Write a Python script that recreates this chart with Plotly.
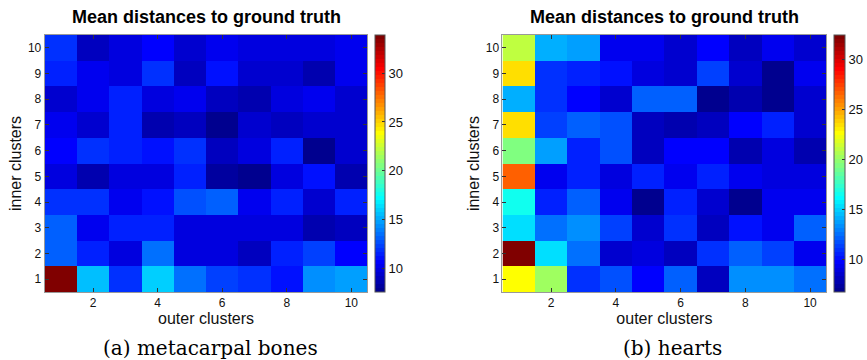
import plotly.graph_objects as go

outer_clusters = list(range(1, 11))
inner_clusters = list(range(1, 11))
x_tick_vals = [2, 4, 6, 8, 10]
cb_tick_vals = [10, 15, 20, 25, 30]

# rows: inner clusters 1..10, columns: outer clusters 1..10
metacarpal_means = [
    [33.9, 15.8, 12.1, 16.2, 13.5, 12.5, 11.9, 10.9, 14.3, 14.8],
    [13.2, 11.4, 9.7, 13.7, 9.9, 9.9, 8.9, 11.4, 12.5, 10.8],
    [13.1, 10.3, 11.4, 11.7, 9.8, 9.8, 9.8, 9.8, 8.7, 9.1],
    [11.9, 11.9, 10.4, 10.9, 12.7, 13.1, 10.4, 11.4, 9.5, 11.7],
    [9.7, 8.8, 9.9, 9.8, 11.7, 8.1, 7.6, 9.8, 11.2, 8.8],
    [10.8, 11.9, 11.5, 11.1, 11.8, 9.2, 9.8, 11.4, 7.8, 9.5],
    [10.3, 9.5, 11.4, 8.8, 9.0, 7.7, 9.5, 9.0, 9.3, 9.3],
    [9.5, 10.1, 11.4, 9.7, 10.4, 9.2, 8.5, 9.7, 10.1, 9.5],
    [11.4, 10.4, 9.8, 12.1, 9.0, 10.9, 9.5, 9.5, 8.8, 10.4],
    [12.0, 9.0, 9.7, 10.8, 9.6, 10.2, 9.9, 9.7, 9.7, 10.4],
]

hearts_means = [
    [22.5, 20.1, 10.9, 11.7, 9.9, 12.2, 8.3, 13.3, 13.2, 12.4],
    [32.5, 15.5, 12.7, 8.6, 9.0, 8.0, 10.9, 12.2, 11.2, 9.4],
    [15.3, 12.4, 13.2, 11.2, 8.6, 10.8, 8.0, 10.2, 9.4, 12.1],
    [16.4, 10.4, 12.2, 9.4, 7.0, 10.4, 8.5, 6.9, 9.3, 9.2],
    [26.5, 9.3, 10.4, 9.0, 10.4, 9.4, 10.5, 9.2, 9.0, 8.8],
    [19.2, 13.7, 10.7, 11.7, 8.2, 9.9, 9.9, 7.9, 8.8, 7.9],
    [23.3, 11.4, 12.2, 11.7, 8.0, 7.6, 8.0, 9.9, 10.7, 8.7],
    [14.0, 11.0, 9.9, 8.7, 12.2, 12.2, 6.9, 7.6, 7.0, 8.6],
    [23.3, 10.9, 10.7, 10.2, 9.0, 8.6, 11.2, 8.5, 6.7, 9.3],
    [20.9, 14.0, 13.7, 9.3, 9.3, 8.7, 9.9, 8.1, 9.3, 8.4],
]

title_text = "Mean distances to ground truth"
x_label = "outer clusters"
y_label = "inner clusters"
captions = ["(a) metacarpal bones", "(b) hearts"]


def jet64():
    n = 64
    cols = []
    for k in range(1, n + 1):
        if k <= 8:
            r, g, b = 0, 0, 0.5 + k / 16
        elif k <= 24:
            r, g, b = 0, (k - 8) / 16, 1
        elif k <= 40:
            r, g, b = (k - 24) / 16, 1, 1 - (k - 24) / 16
        elif k <= 56:
            r, g, b = 1, 1 - (k - 40) / 16, 0
        else:
            r, g, b = 1 - (k - 56) / 16, 0, 0
        cols.append("rgb(%d,%d,%d)" % (round(r * 255), round(g * 255), round(b * 255)))
    scale = []
    for i, c in enumerate(cols):
        scale.append([i / n, c])
        scale.append([(i + 1) / n, c])
    return scale


JET = jet64()
FONT = "Liberation Sans, Arial, Helvetica, sans-serif"

W, H = 867, 360
def px_x(v):
    return v / W
def px_y(v):
    return 1 - v / H

dom_y = [px_y(292), px_y(35)]
dom_x1 = [px_x(45), px_x(370)]
dom_x2 = [px_x(506), px_x(832)]

fig = go.Figure()

for i, (z, dx, cbx, cbth) in enumerate([
    (metacarpal_means, dom_x1, px_x(378), 10),
    (hearts_means, dom_x2, px_x(840), 11),
]):
    xa = "x" if i == 0 else "x2"
    ya = "y" if i == 0 else "y2"
    fig.add_trace(go.Heatmap(
        z=z, x=outer_clusters, y=inner_clusters,
        colorscale=JET,
        xaxis=xa, yaxis=ya,
        colorbar=dict(
            x=cbx, xanchor="left", xref="paper",
            y=(dom_y[0] + dom_y[1]) / 2, yanchor="middle",
            len=257, lenmode="pixels",
            thickness=cbth, thicknessmode="pixels",
            outlinecolor="#555", outlinewidth=1,
            tickvals=cb_tick_vals,
            ticks="inside", ticklen=3, tickcolor="#333",
            tickfont=dict(family=FONT, size=13, color="#111"),
            xpad=0, ypad=0,
        ),
        hoverinfo="skip",
    ))

axis_common = dict(
    showline=True, linecolor="#999", linewidth=1, mirror="ticks",
    ticks="inside", ticklen=4, tickcolor="#333",
    tickfont=dict(family=FONT, size=12, color="#111"),
    showgrid=False, zeroline=False,
)
label_font = dict(family=FONT, size=16, color="#111")

fig.update_layout(
    width=W, height=H,
    margin=dict(l=0, r=0, t=0, b=0),
    paper_bgcolor="white", plot_bgcolor="white",
    showlegend=False,
    xaxis=dict(domain=dom_x1, anchor="y", range=[0.5, 10.5], tickvals=x_tick_vals,
               title=dict(text=x_label, font=label_font, standoff=2),
               **axis_common),
    yaxis=dict(domain=dom_y, anchor="x", range=[0.5, 10.5], tickvals=inner_clusters,
               title=dict(text=y_label, font=label_font, standoff=2),
               **axis_common),
    xaxis2=dict(domain=dom_x2, anchor="y2", range=[0.5, 10.5], tickvals=x_tick_vals,
                title=dict(text=x_label, font=label_font, standoff=2),
                **axis_common),
    yaxis2=dict(domain=dom_y, anchor="x2", range=[0.5, 10.5], tickvals=inner_clusters,
                title=dict(text=y_label, font=label_font, standoff=2),
                **axis_common),
)

annotations = []
for dx in (dom_x1, dom_x2):
    annotations.append(dict(
        text="<b>" + title_text + "</b>", x=(dx[0] + dx[1]) / 2, y=px_y(17),
        xref="paper", yref="paper", xanchor="center", yanchor="middle",
        showarrow=False, font=dict(family=FONT, size=18, color="#000"),
    ))
for cap, cx in zip(captions, (212, 677)):
    annotations.append(dict(
        text=cap, x=px_x(cx), y=px_y(348),
        xref="paper", yref="paper", xanchor="center", yanchor="middle",
        showarrow=False, font=dict(family="DejaVu Serif, serif", size=20, color="#000"),
    ))
fig.update_layout(annotations=annotations)

fig.write_html(
    "out.html",
    config={"displayModeBar": False},
    post_script="document.body.style.margin='0';document.body.style.overflow='hidden';",
)
